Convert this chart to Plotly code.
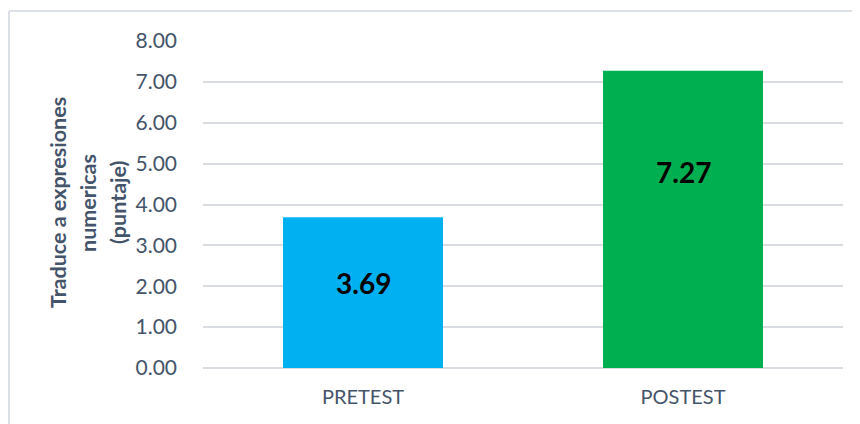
import plotly.graph_objects as go

categories = ["PRETEST", "POSTEST"]
values = [3.69, 7.27]
bar_colors = ["#00B0F0", "#00B050"]
value_labels = ["3.69", "7.27"]
y_ticks = [0, 1, 2, 3, 4, 5, 6, 7, 8]
y_tick_labels = ["0.00", "1.00", "2.00", "3.00", "4.00", "5.00", "6.00", "7.00", "8.00"]
axis_title_lines = ["Traduce a expresiones", "numericas", "(puntaje)"]
label_frac = [0.564, 0.66]  # vertical placement of labels inside the bars (fraction of bar height)

# page body has an 8px margin, so figure is sized to fit the 860x424 window
W, H = 844, 416
L, R, T, B = 195, 9, 33, 56
axis_color = "#44546A"
grid_color = "#D9DCE1"
frame_color = "#DCE1E8"
pw = W - L - R
ph = H - T - B

fig = go.Figure()
fig.add_trace(go.Bar(
    x=categories, y=values,
    marker=dict(color=bar_colors, line=dict(width=0)),
    width=0.5, hoverinfo="skip",
))

for c, v, t, f in zip(categories, values, value_labels, label_frac):
    fig.add_annotation(x=c, y=v * f, text=f"<b>{t}</b>", showarrow=False,
                       font=dict(family="Lato", size=28, color="#000000"),
                       xanchor="center", yanchor="middle")

# axis title (three lines, rotated)
for i, line in enumerate(axis_title_lines):
    fig.add_annotation(
        xref="paper", yref="paper",
        x=(50 + 30 * i - L) / pw, y=(H - B - 195) / ph,
        text=f"<b>{line}</b>",
        textangle=-90, showarrow=False, align="center",
        font=dict(family="Lato", size=21.5, color=axis_color),
        xanchor="center", yanchor="middle",
    )

# chart frame border (only top and left edges are inside the window)
fx0 = (1 - L) / pw
fy1 = (H - B - 3) / ph
fig.add_shape(type="line", xref="paper", yref="paper",
              x0=fx0, x1=(W + 30 - L) / pw, y0=fy1, y1=fy1,
              line=dict(color=frame_color, width=2), layer="below")
fig.add_shape(type="line", xref="paper", yref="paper",
              x0=fx0, x1=fx0, y0=(H - B - (H + 30)) / ph, y1=fy1,
              line=dict(color=frame_color, width=2), layer="below")

fig.update_layout(
    width=W, height=H,
    margin=dict(l=L, r=R, t=T, b=B, pad=0),
    paper_bgcolor="white", plot_bgcolor="white",
    showlegend=False,
    bargap=0.5,
    xaxis=dict(
        range=[-0.5, 1.5], showgrid=False, showline=False, zeroline=False,
        ticks="", tickfont=dict(family="Lato", size=20, color=axis_color),
        ticklabelstandoff=15,
    ),
    yaxis=dict(
        range=[0, 8], tickvals=y_ticks, ticktext=y_tick_labels,
        showgrid=True, gridcolor=grid_color, gridwidth=1.5,
        zeroline=True, zerolinecolor=grid_color, zerolinewidth=1.5,
        showline=False, ticks="",
        tickfont=dict(family="Lato", size=21, color=axis_color),
        ticklabelstandoff=25,
    ),
)

fig.write_html("out.html")
